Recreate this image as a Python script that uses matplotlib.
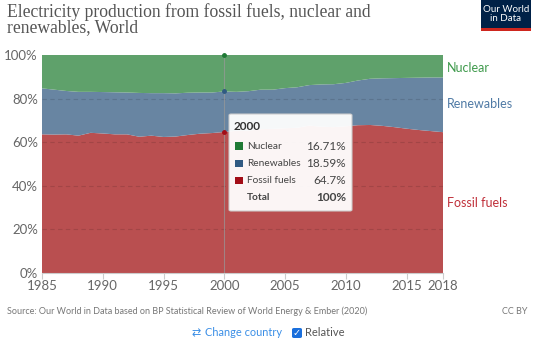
import numpy as np
import matplotlib.pyplot as plt
from matplotlib.patches import FancyBboxPatch, Rectangle

# Share of electricity production, World (%)
years = list(range(1985, 2019))
fossil = [63.6, 63.5, 63.6, 63.0, 64.3, 64.0, 63.6, 63.6, 62.5, 63.0,
          62.4, 62.6, 63.3, 63.9, 64.2, 64.7, 65.2, 65.3, 66.0, 66.1,
          66.4, 66.6, 67.6, 67.1, 66.9, 67.3, 67.8, 67.9, 67.5, 66.9,
          66.2, 65.6, 65.1, 64.6]
nuclear = [15.3, 15.9, 16.5, 16.9, 16.9, 17.0, 17.1, 17.2, 17.4, 17.5,
           17.5, 17.6, 17.3, 17.2, 17.2, 16.71, 16.9, 16.6, 15.9, 15.9,
           15.2, 14.8, 13.8, 13.5, 13.4, 12.8, 11.7, 10.9, 10.7, 10.6,
           10.5, 10.4, 10.3, 10.3]
renewables = [100 - f - n for f, n in zip(fossil, nuclear)]
renewables[years.index(2000)] = 18.59

series = ['Nuclear', 'Renewables', 'Fossil fuels']
area_colors = {'Fossil fuels': '#b94f50', 'Renewables': '#6885a2', 'Nuclear': '#5fa16b'}
label_colors = {'Fossil fuels': '#c0303a', 'Renewables': '#4f7aa5', 'Nuclear': '#3f9a4c'}
key_colors = {'Fossil fuels': '#a20d17', 'Renewables': '#305a82', 'Nuclear': '#1f7a35'}
hover_year = 2000

plt.rcParams['font.family'] = ['Lato', 'DejaVu Sans']

fig = plt.figure(figsize=(5.34, 3.46), dpi=100)
ax = fig.add_axes([42 / 534, 1 - 273 / 346, 401 / 534, 218 / 346])

ax.stackplot(years, fossil, renewables, nuclear,
             colors=[area_colors['Fossil fuels'], area_colors['Renewables'], area_colors['Nuclear']],
             linewidth=0, zorder=1)

ax.set_xlim(1985, 2018)
ax.set_ylim(0, 100)
for yv in [20, 40, 60, 80]:
    ax.axhline(yv, color='#000000', alpha=0.12, lw=0.8, ls=(0, (4, 3)), zorder=2)
ax.axhline(100, color='#dddddd', lw=0.8, ls=(0, (4, 3)), zorder=0)

ax.set_yticks([0, 20, 40, 60, 80, 100])
ax.set_yticklabels(['0%', '20%', '40%', '60%', '80%', '100%'])
ax.set_xticks([1985, 1990, 1995, 2000, 2005, 2010, 2015, 2018])
ax.set_xticklabels(['1985', '1990', '1995', '2000', '2005', '2010', '2015', '2018'])
ax.tick_params(axis='y', length=0, pad=3, labelsize=9.5, labelcolor='#666666')
ax.tick_params(axis='x', length=4, color='#cccccc', pad=1, labelsize=9.5, labelcolor='#666666')
for side in ['top', 'right', 'left']:
    ax.spines[side].set_visible(False)
ax.spines['bottom'].set_color('#cccccc')

# hover line and markers
i = years.index(hover_year)
ax.axvline(hover_year, color='#999999', lw=0.8, alpha=0.7, zorder=3)
tops = [fossil[i], fossil[i] + renewables[i], 100]
for yv, c in zip(tops, [key_colors['Fossil fuels'], key_colors['Renewables'], key_colors['Nuclear']]):
    ax.plot([hover_year], [yv], 'o', ms=2.5, color=c, zorder=4, clip_on=False)

# right-side labels
ax.text(1.01, 0.94, 'Nuclear', transform=ax.transAxes, color=label_colors['Nuclear'], fontsize=9, va='center')
ax.text(1.01, 0.775, 'Renewables', transform=ax.transAxes, color=label_colors['Renewables'], fontsize=9, va='center')
ax.text(1.01, 0.32, 'Fossil fuels', transform=ax.transAxes, color=label_colors['Fossil fuels'], fontsize=9, va='center')

# tooltip
box = FancyBboxPatch((229 / 534, 1 - 211 / 346), 123 / 534, 97 / 346, transform=fig.transFigure,
                     boxstyle='round,pad=0,rounding_size=0.004', facecolor='white', alpha=0.95,
                     edgecolor='#cccccc', lw=0.8, zorder=10)
fig.patches.append(box)
fig.text(234 / 534, 1 - 127 / 346, str(hover_year), fontsize=8.5, fontweight='bold', color='#333333',
         va='center', zorder=12)
tip_vals = {'Nuclear': nuclear[i], 'Renewables': renewables[i], 'Fossil fuels': fossil[i]}
for k, name in enumerate(series):
    yy = 1 - (146 + 17.3 * k) / 346
    fig.patches.append(Rectangle((235 / 534, yy - 3.7 / 346), 7.5 / 534, 7.5 / 346,
                                 transform=fig.transFigure, facecolor=key_colors[name], zorder=11))
    fig.text(247 / 534, yy, name, fontsize=7.3, color='#444444', va='center', zorder=12)
    fig.text(346 / 534, yy, f'{round(tip_vals[name], 2):g}%', fontsize=8.5, color='#444444',
             va='center', ha='right', zorder=12)
yy = 1 - (146 + 17.3 * 3) / 346
fig.text(247 / 534, yy, 'Total', fontsize=7.3, fontweight='bold', color='#444444', va='center', zorder=12)
fig.text(346 / 534, yy, '100%', fontsize=8.5, fontweight='bold', color='#444444', va='center', ha='right', zorder=12)

# title
fig.text(7 / 534, 1 - 3 / 346, 'Electricity production from fossil fuels, nuclear and\nrenewables, World',
         fontsize=12.7, family=['Liberation Serif', 'DejaVu Serif'], color='#555555', va='top', linespacing=0.9)

# logo
fig.patches.append(Rectangle((481 / 534, 1 - 28 / 346), 50 / 534, 28 / 346, transform=fig.transFigure,
                             facecolor='#002147', zorder=5))
fig.patches.append(Rectangle((481 / 534, 1 - 30.5 / 346), 50 / 534, 2.5 / 346, transform=fig.transFigure,
                             facecolor='#ce261e', zorder=6))
fig.text(506 / 534, 1 - 14 / 346, 'Our World\nin Data', fontsize=7, color='white', ha='center', va='center',
         linespacing=0.95, zorder=7)

# footer
fig.text(7 / 534, 1 - 311 / 346, 'Source: Our World in Data based on BP Statistical Review of World Energy & Ember (2020)',
         fontsize=6.5, color='#777777', va='center')
fig.text(527 / 534, 1 - 311 / 346, 'CC BY', fontsize=6.5, color='#777777', va='center', ha='right')
fig.text(192 / 534, 1 - 333 / 346, '\u21c4', fontsize=8, color='#3a8ee6', va='center', family=['DejaVu Sans'])
fig.text(205 / 534, 1 - 333 / 346, 'Change country', fontsize=7.9, color='#3a8ee6', va='center')
fig.patches.append(FancyBboxPatch((292 / 534, 1 - 338 / 346), 10 / 534, 10 / 346, transform=fig.transFigure,
                                  boxstyle='round,pad=0,rounding_size=0.004', facecolor='#1a6fdc', edgecolor='none'))
fig.text(297 / 534, 1 - 333 / 346, '\u2713', fontsize=7, color='white', ha='center', va='center',
         fontweight='bold', family=['DejaVu Sans'])
fig.text(305 / 534, 1 - 333 / 346, 'Relative', fontsize=8, color='#555555', va='center')

fig.savefig('out.png', dpi=100)
